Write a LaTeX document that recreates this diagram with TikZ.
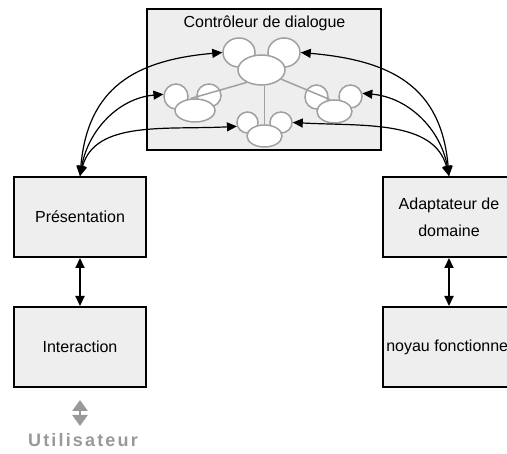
\documentclass[tikz,border=0pt]{standalone}
\usepackage{fontspec}
\setmainfont{Liberation Sans}
\usetikzlibrary{arrows.meta,shapes.geometric}
\definecolor{boxfill}{RGB}{238,238,238}
\definecolor{ellgray}{RGB}{160,160,160}
\definecolor{usergray}{RGB}{153,153,153}
\begin{document}
\begin{tikzpicture}[x=1pt,y=1pt,
  box/.style={draw=black, line width=2pt, fill=boxfill, minimum width=132pt, minimum height=80pt,
    inner sep=0pt, font=\fontsize{16}{27}\selectfont, align=center},
  ctrlbox/.style={draw=black, line width=2pt, fill=boxfill, minimum width=234pt, minimum height=141pt, inner sep=0pt},
  ear/.style={ellipse, draw=ellgray, line width=1.5pt, fill=white, inner sep=0pt},
  link/.style={draw=ellgray, line width=1.5pt},
  biarrow/.style={line width=1.2pt, {Triangle[length=10pt,width=9pt]}-{Triangle[length=10pt,width=9pt]}},
  boxarrow/.style={line width=1.8pt, {Triangle[length=10pt,width=9pt]}-{Triangle[length=10pt,width=9pt]}},
  userarrow/.style={draw=usergray, line width=2.5pt, {Triangle[length=11pt,width=15pt]}-{Triangle[length=11pt,width=15pt]}}
]
\path[use as bounding box] (0,0) rectangle (507,-454);
\clip (0,0) rectangle (507,-454);

% dialogue controller
\node[ctrlbox] (ctrl) at (264,-79.5) {};
\node[font=\fontsize{16}{19}\selectfont, anchor=base] (title) at (264.5,-28) {Contrôleur de dialogue};

% ears
\node[ear, minimum width=32pt, minimum height=29pt] (tle) at (239,-52.5) {};
\node[ear, minimum width=32pt, minimum height=29pt] (tre) at (284,-52.5) {};
\node[ear, minimum width=24pt, minimum height=25pt] (lle) at (176,-96.5) {};
\node[ear, minimum width=24pt, minimum height=23pt] (lre) at (209,-95.5) {};
\node[ear, minimum width=23pt, minimum height=24pt] (rle) at (316.5,-97) {};
\node[ear, minimum width=23pt, minimum height=23pt] (rre) at (350.5,-96.5) {};
\node[ear, minimum width=21pt, minimum height=21pt] (ble) at (247.5,-122.5) {};
\node[ear, minimum width=22pt, minimum height=21pt] (bre) at (281,-122.5) {};
% bodies
\node[ear, minimum width=47pt, minimum height=30pt] (tb) at (261.5,-70) {};
\node[ear, minimum width=40pt, minimum height=23pt] (lb) at (195,-110.5) {};
\node[ear, minimum width=35pt, minimum height=23pt] (rb) at (334.5,-111.5) {};
\node[ear, minimum width=35pt, minimum height=22pt] (bb) at (264.5,-136) {};
% links
\draw[link] (tb.220) -- (lb.110);
\draw[link] (tb.335) -- (rb.110);
\draw[link] (bb.north) -- (bb.north |- tb.south);

% boxes
\node[box] (pres) at (80,-217) {Présentation};
\node[box] (inter) at (80,-347) {Interaction};
\node[box] (adapt) at (449,-217) {Adaptateur de\\domaine};
\node[box] (noyau) at (449,-347) {noyau fonctionnel};

% curved connectors
\draw[biarrow] (pres.north) to[out=85,in=185,looseness=1.2] (tle.west);
\draw[biarrow] (pres.north) to[out=80,in=185] (lle.170);
\draw[biarrow] (pres.north) to[out=75,in=183,out looseness=0.9,in looseness=1.1] (ble.200);
\draw[biarrow] (adapt.north) to[out=95,in=-5,looseness=1.2] (tre.east);
\draw[biarrow] (adapt.north) to[out=100,in=-5] (rre.15);
\draw[biarrow] (adapt.north) to[out=105,in=-3,out looseness=0.9,in looseness=1.1] (bre.east);

% straight connectors
\draw[boxarrow] (pres.south) -- (inter.north);
\draw[boxarrow] (adapt.south) -- (noyau.north);

% user
\coordinate (u1) at (80,-400);
\coordinate (u2) at (80,-426);
\draw[userarrow] (u1) -- (u2);
\node[anchor=base, text=usergray, font=\fontsize{18}{20}\selectfont\bfseries\addfontfeature{LetterSpace=12}] (user) at (83,-447) {Utilisateur};
\end{tikzpicture}
\end{document}
